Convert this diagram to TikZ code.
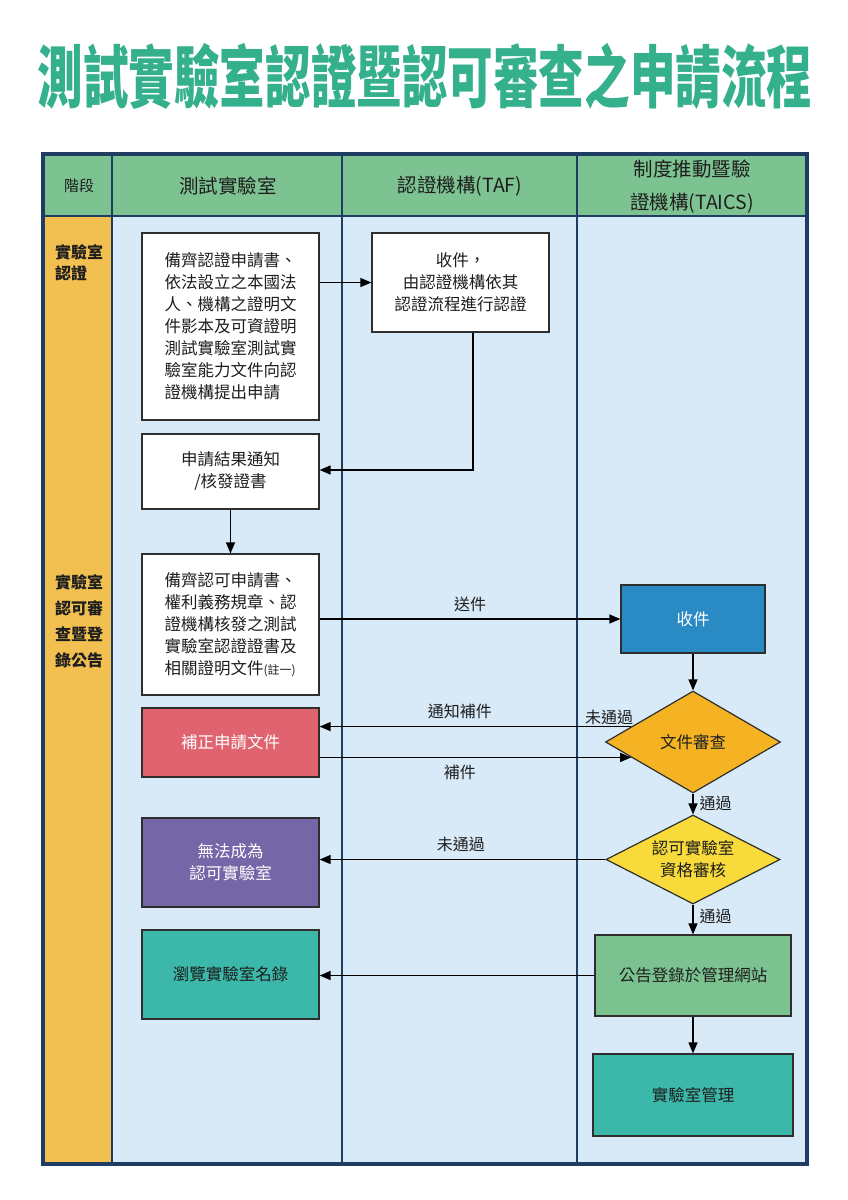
\documentclass[tikz,border=0pt]{standalone}
\usepackage{fontspec}
\setmainfont{Noto Sans CJK TC}
\usetikzlibrary{arrows.meta,shapes.geometric}
\definecolor{hdrc}{HTML}{7DC391}
\definecolor{stagec}{HTML}{F2C050}
\definecolor{lanec}{HTML}{D8EAF8}
\definecolor{framec}{HTML}{1F3C63}
\definecolor{boxline}{HTML}{2E2E2E}
\definecolor{bluec}{HTML}{2A8AC4}
\definecolor{orangec}{HTML}{F5B324}
\definecolor{yellowc}{HTML}{F8DB3A}
\definecolor{redc}{HTML}{E0646F}
\definecolor{purplec}{HTML}{7566A8}
\definecolor{greenc}{HTML}{7CC190}
\definecolor{tealc}{HTML}{3BB8A9}
\definecolor{titlec}{HTML}{34B08C}
\definecolor{txtc}{HTML}{1E1E1E}
\tikzset{
  procbox/.style={rectangle, draw=boxline, line width=1.2pt, inner sep=0pt, fill=white,
    text=txtc, font=\fontsize{16.5}{22}\selectfont, align=center},
  decbox/.style={diamond, draw=boxline, line width=1.2pt, inner sep=0pt, aspect=1.7,
    text=txtc, font=\fontsize{16.5}{22}\selectfont, align=center},
  arr/.style={line width=1.3pt, draw=black, -{Triangle[length=11pt,width=9pt]}},
  elabel/.style={font=\fontsize{16}{20}\selectfont, text=txtc, inner sep=0pt},
  hdrtext/.style={font=\fontsize{19.5}{34}\selectfont, text=txtc, align=center, inner sep=0pt},
  stagetext/.style={font=\bfseries\fontsize{16}{21}\selectfont, text=txtc, align=left, inner sep=0pt},
}
\begin{document}
\begin{tikzpicture}[x=1pt,y=-1pt]
\useasboundingbox (0,0) rectangle (848,1200);
\fill[white] (0,0) rectangle (848,1200);
% title
\node[font=\bfseries\fontsize{68}{70}\selectfont, text=titlec, inner sep=0pt] (title) at (425,76) {\scalebox{0.67}[1]{測試實驗室認證暨認可審查之申請流程}};
% table background
\fill[hdrc] (43,154) rectangle (807,216);
\fill[stagec] (43,216) rectangle (112,1164);
\fill[lanec] (112,216) rectangle (807,1164);
\draw[framec, line width=2.5pt] (43,216) -- (807,216);
\draw[framec, line width=2.5pt] (112,154) -- (112,1164);
\draw[framec, line width=2.5pt] (342,154) -- (342,1164);
\draw[framec, line width=2.5pt] (577,154) -- (577,1164);
\draw[framec, line width=4pt] (43,154) rectangle (807,1164);
% headers
\node[hdrtext, font=\fontsize{15}{20}\selectfont] (h0) at (79,186) {階段};
\node[hdrtext] (h1) at (228,186) {測試實驗室};
\node[hdrtext] (h2) at (460,186) {認證機構(TAF)};
\node[hdrtext, font=\fontsize{19.5}{33}\selectfont] (h3) at (692,187) {制度推動暨驗\\證機構(TAICS)};
% stage labels
\node[stagetext, anchor=west] (s1) at (55,263) {實驗室\\認證};
\node[stagetext, font=\bfseries\fontsize{16}{26}\selectfont, anchor=west] (s2) at (55,621) {實驗室\\認可審\\查暨登\\錄公告};
% boxes
\node[procbox, align=left, minimum width=177pt, minimum height=187pt] (A) at (230.5,326.5)
  {備齊認證申請書、\\依法設立之本國法\\人、機構之證明文\\件影本及可資證明\\測試實驗室測試實\\驗室能力文件向認\\證機構提出申請};
\node[procbox, minimum width=177pt, minimum height=99pt] (B) at (460.5,282.5)
  {收件，\\由認證機構依其\\認證流程進行認證};
\node[procbox, minimum width=177pt, minimum height=75pt] (C) at (230.5,471.5)
  {申請結果通知\\/核發證書};
\node[procbox, align=left, minimum width=177pt, minimum height=141pt] (D) at (230.5,624.5)
  {備齊認可申請書、\\權利義務規章、認\\證機構核發之測試\\實驗室認證證書及\\相關證明文件{\fontsize{12}{22}\selectfont(註一)}};
\node[procbox, fill=bluec, text=white, minimum width=144pt, minimum height=68pt] (E) at (693,619) {收件};
\node[decbox, fill=orangec, minimum width=175pt, minimum height=102pt] (d1) at (693,742) {文件審查};
\node[procbox, fill=redc, text=white, minimum width=177pt, minimum height=69pt] (F) at (230.5,742.5) {補正申請文件};
\node[decbox, fill=yellowc, minimum width=174pt, minimum height=89pt] (d2) at (693,859.5) {認可實驗室\\資格審核};
\node[procbox, fill=purplec, text=white, minimum width=177pt, minimum height=89pt] (G) at (230.5,862.5) {無法成為\\認可實驗室};
\node[procbox, fill=greenc, minimum width=196pt, minimum height=81pt] (H) at (693,975.5) {公告登錄於管理網站};
\node[procbox, fill=tealc, minimum width=177pt, minimum height=89pt] (I) at (230.5,974.5) {瀏覽實驗室名錄};
\node[procbox, fill=tealc, minimum width=200pt, minimum height=82pt] (J) at (693,1095) {實驗室管理};
% connectors
\draw[arr] (A.east |- B.west) -- (B.west);
\coordinate (bc) at (473,470);
\draw[arr] (B.south -| bc) -- (bc) -- (C.east |- bc);
\draw[arr] (C.south -| D.north) -- (D.north);
\draw[arr] (D.east |- E.west) -- node[elabel, above=7pt] (lsend) {送件} (E.west);
\draw[arr] (E.south) -- (d1.north);
\draw[arr] (d1.166) -- node[elabel, above=7pt, pos=0.55] (lnotify) {通知補件} (d1.166 -| F.east);
\node[elabel] (lfail1) at (609,717) {未通過};
\draw[arr] (d1.194 -| F.east) -- node[elabel, below=7pt, pos=0.45] (lsupp) {補件} (d1.194);
\draw[arr] (d1.south) -- node[elabel, right=6pt, pos=0.45] (lpass1) {通過} (d2.north);
\draw[arr] (d2.west) -- node[elabel, above=7pt, pos=0.506] (lfail2) {未通過} (d2.west -| G.east);
\draw[arr] (d2.south) -- node[elabel, right=6pt, pos=0.4] (lpass2) {通過} (H.north);
\draw[arr] (H.west) -- (H.west -| I.east);
\draw[arr] (H.south) -- (J.north);
\end{tikzpicture}
\end{document}
